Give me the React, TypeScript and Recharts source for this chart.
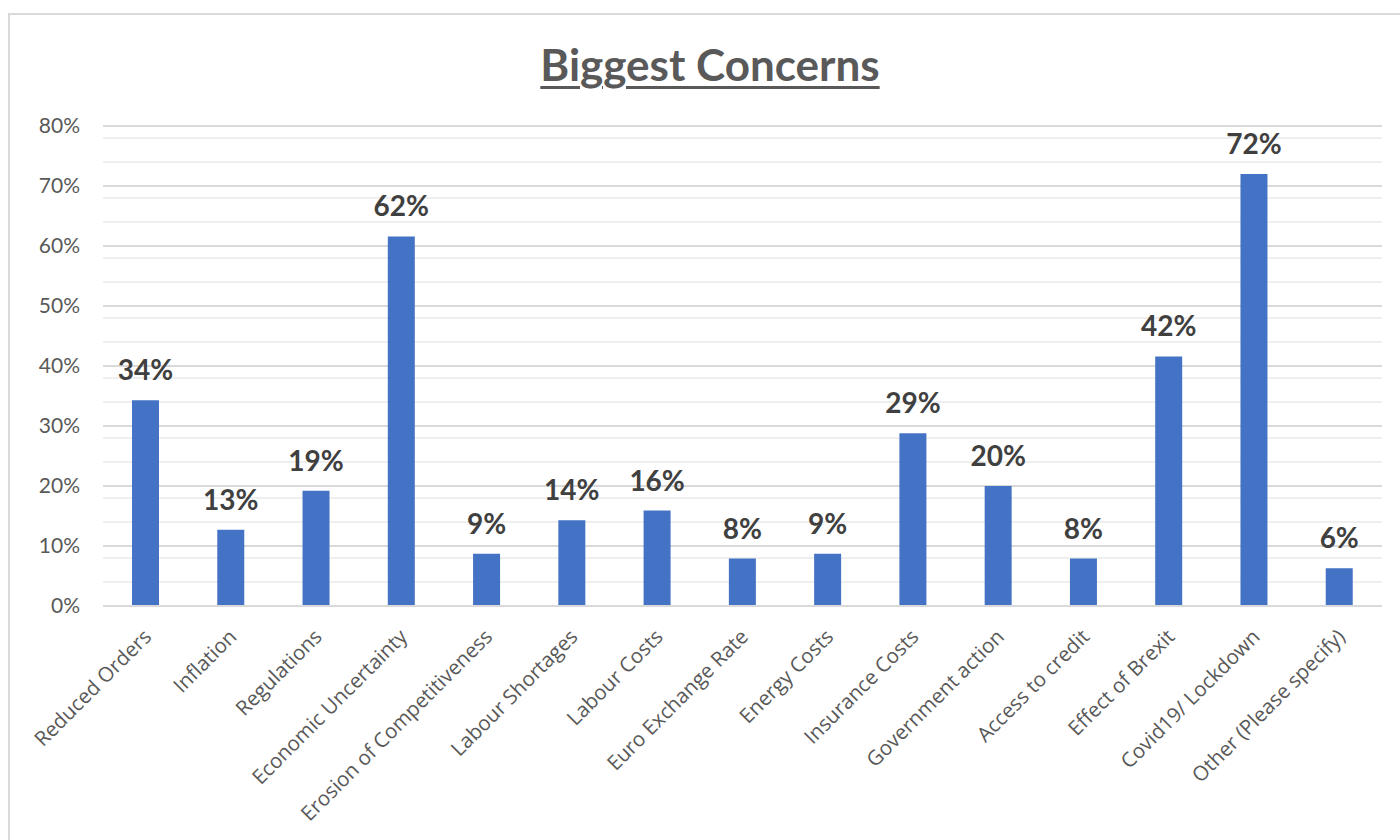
import React from 'react';
import { BarChart, Bar, XAxis, YAxis, CartesianGrid, LabelList } from 'recharts';

const categories = [
  'Reduced Orders',
  'Inflation',
  'Regulations',
  'Economic Uncertainty',
  'Erosion of Competitiveness',
  'Labour Shortages',
  'Labour Costs',
  'Euro Exchange Rate',
  'Energy Costs',
  'Insurance Costs',
  'Government action',
  'Access to credit',
  'Effect of Brexit',
  'Covid19/ Lockdown',
  'Other (Please specify)',
];

const shares = [34.3, 12.7, 19.2, 61.6, 8.7, 14.3, 15.9, 7.9, 8.7, 28.8, 20.0, 7.9, 41.6, 72.0, 6.3];

const majorTicks = [0, 10, 20, 30, 40, 50, 60, 70, 80];
const minorTicks = [2, 4, 6, 8, 12, 14, 16, 18, 22, 24, 26, 28, 32, 34, 36, 38, 42, 44, 46, 48, 52, 54, 56, 58, 62, 64, 66, 68, 72, 74, 76, 78];

const data = categories.map((name, i) => ({ name, value: shares[i] }));

const FONT = 'Lato, "Open Sans", sans-serif';
const XFONT = '"Open Sans", Lato, sans-serif';

const XTick = (props: any) => {
  const { x, y, payload } = props;
  const tx = x + 7;
  const ty = y + 24;
  return (
    <text
      x={tx}
      y={ty}
      transform={`rotate(-45, ${tx}, ${ty})`}
      textAnchor="end"
      fill="#595959"
      fontSize={20.5}
      fontFamily={XFONT}
    >
      {payload.value}
    </text>
  );
};

export default function App() {
  return (
    <div style={{ position: 'fixed', inset: 0, overflow: 'hidden', background: '#fff' }}>
      <div
        style={{
          position: 'absolute',
          left: 8,
          top: 13,
          width: 1420,
          height: 860,
          border: '2px solid #d9d9d9',
          boxSizing: 'border-box',
        }}
      />
      <div
        style={{
          position: 'absolute',
          left: 0,
          top: 38,
          width: 1420,
          textAlign: 'center',
          fontFamily: FONT,
          fontWeight: 'bold',
          fontSize: 44,
          lineHeight: '52px',
          color: '#595959',
          textDecoration: 'underline',
          textUnderlineOffset: 5,
          textDecorationThickness: 3,
        }}
      >
        Biggest Concerns
      </div>
      <div style={{ position: 'absolute', left: 0, top: 0 }}>
        <BarChart
          width={1400}
          height={840}
          data={data}
          margin={{ top: 126, right: 18, left: 0, bottom: 0 }}
        >
          <CartesianGrid horizontalValues={minorTicks} vertical={false} stroke="#efefef" strokeWidth={2} />
          <CartesianGrid horizontalValues={majorTicks} vertical={false} stroke="#d9d9d9" strokeWidth={2} />
          <XAxis
            dataKey="name"
            interval={0}
            height={234}
            tick={<XTick />}
            tickLine={false}
            axisLine={{ stroke: '#d9d9d9', strokeWidth: 2 }}
          />
          <YAxis
            width={103}
            domain={[0, 80]}
            ticks={majorTicks}
            tickFormatter={(v: number) => `${v}%`}
            tick={{ fill: '#595959', fontSize: 21, fontFamily: FONT }}
            tickLine={false}
            tickSize={0}
            tickMargin={23}
            axisLine={false}
          />
          <Bar dataKey="value" fill="#4472C4" barSize={27} isAnimationActive={false}>
            <LabelList
              dataKey="value"
              position="top"
              offset={20}
              formatter={(v: number) => `${Math.round(v)}%`}
              fill="#404040"
              fontSize={28}
              fontWeight="bold"
              fontFamily={FONT}
            />
          </Bar>
        </BarChart>
      </div>
    </div>
  );
}
